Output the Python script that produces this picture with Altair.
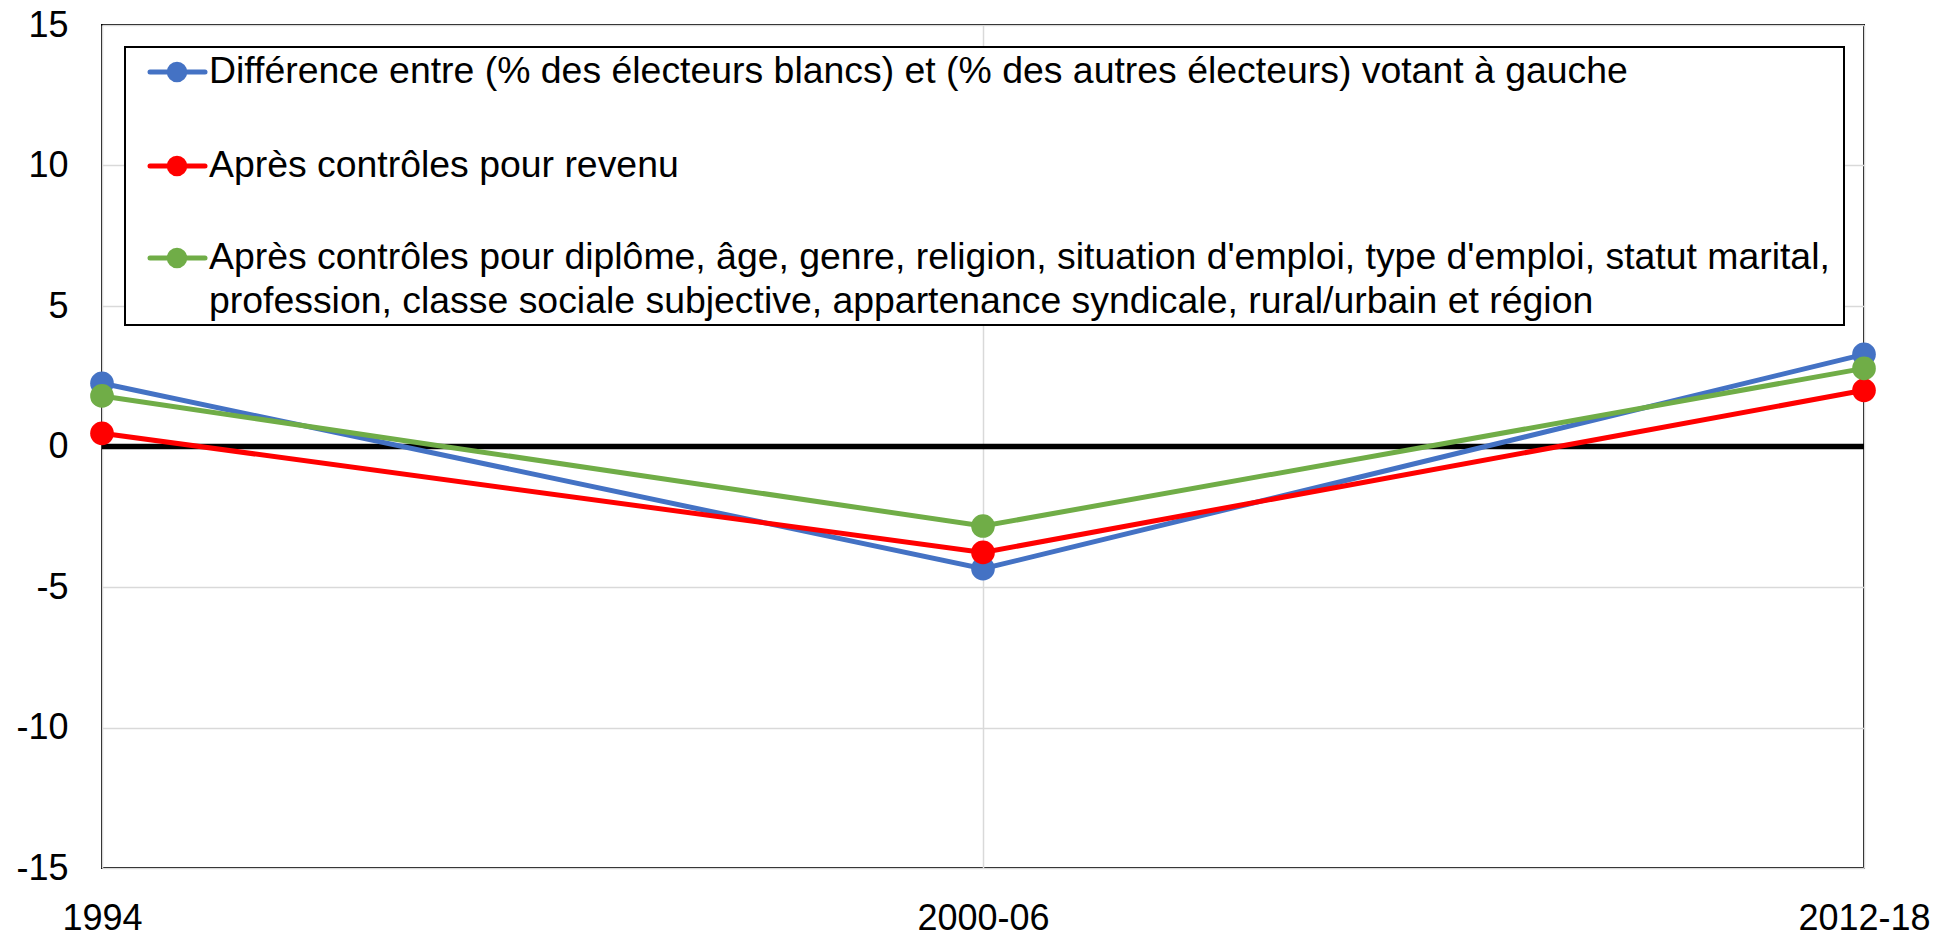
import altair as alt
import pandas as pd

# ---- data ----
periods = ["1994", "2000-06", "2012-18"]
series_names = [
    "Différence entre (% des électeurs blancs) et (% des autres électeurs) votant à gauche",
    "Après contrôles pour revenu",
    "Après contrôles pour diplôme, âge, genre, religion, situation d'emploi, type d'emploi, statut marital, profession, classe sociale subjective, appartenance syndicale, rural/urbain et région",
]
diff_vals = [2.25, -4.35, 3.28]
revenu_vals = [0.47, -3.77, 2.0]
full_vals = [1.8, -2.83, 2.78]
colors = ["#4472C4", "#FF0000", "#70AD47"]
y_ticks = [-15, -10, -5, 0, 5, 10, 15]
legend_lines = [
    ["Différence entre (% des électeurs blancs) et (% des autres électeurs) votant à gauche"],
    ["Après contrôles pour revenu"],
    ["Après contrôles pour diplôme, âge, genre, religion, situation d'emploi, type d'emploi, statut marital,",
     "profession, classe sociale subjective, appartenance syndicale, rural/urbain et région"],
]

rows = []
for name, vals in zip(series_names, [diff_vals, revenu_vals, full_vals]):
    for p, v in zip(periods, vals):
        rows.append({"period": p, "serie": name, "value": v})
df = pd.DataFrame(rows)

FONT = "Liberation Sans"
W, H = 1762, 843

x_enc = alt.X(
    "period:O", sort=periods,
    scale=alt.Scale(type="point", padding=0),
    axis=alt.Axis(title=None, labelAngle=0, grid=True, gridColor="#d9d9d9", gridWidth=1.5,
                  ticks=False, tickSize=0, domain=False, labelFontSize=36, labelPadding=33,
                  labelColor="black", labelFont=FONT),
)
y_enc = alt.Y(
    "value:Q",
    scale=alt.Scale(domain=[-15, 15], nice=False, zero=False),
    axis=alt.Axis(title=None, values=y_ticks, grid=True, gridColor="#d9d9d9", gridWidth=1.5,
                  ticks=False, tickSize=0, domain=False, labelFontSize=36, labelPadding=34,
                  labelColor="black", labelFont=FONT, labelFlush=False, labelOverlap=False,
                  labelExpr="'' + datum.value"),
)
color_enc = alt.Color("serie:N", scale=alt.Scale(domain=series_names, range=colors), legend=None)

base = alt.Chart(df)

zero_rule = alt.Chart(pd.DataFrame({"z": [0]})).mark_rule(color="black", strokeWidth=5.5).encode(
    y=alt.Y("z:Q", scale=alt.Scale(domain=[-15, 15], nice=False, zero=False))
)

lines = base.mark_line(strokeWidth=5).encode(x=x_enc, y=y_enc, color=color_enc,
                                              order=alt.Order("period:O"))
points = base.mark_circle(size=560, opacity=1).encode(x=x_enc, y=y_enc, color=color_enc)

# ---- legend drawn as a boxed overlay ----
dummy = pd.DataFrame({"k": [0]})
legend_layers = [
    alt.Chart(dummy).mark_rect(fill="white", stroke="black", strokeWidth=2).encode(
        x=alt.value(23), x2=alt.value(1742), y=alt.value(22), y2=alt.value(300)
    )
]
entry_y = [47, 141, 233]
line_gap = 44
for cy, col, texts in zip(entry_y, colors, legend_lines):
    legend_layers.append(
        alt.Chart(dummy).mark_rule(stroke=col, strokeWidth=5, strokeCap="round").encode(
            x=alt.value(48), x2=alt.value(103), y=alt.value(cy)
        )
    )
    legend_layers.append(
        alt.Chart(dummy).mark_circle(size=420, color=col, opacity=1).encode(
            x=alt.value(75), y=alt.value(cy)
        )
    )
    for i, t in enumerate(texts):
        legend_layers.append(
            alt.Chart(dummy).mark_text(align="left", baseline="middle", fontSize=37.4, font=FONT,
                                       color="black").encode(
                x=alt.value(107), y=alt.value(cy + i * line_gap), text=alt.value(t)
            )
        )

chart = alt.layer(zero_rule, lines, points, *legend_layers).properties(
    width=W, height=H,
    autosize=alt.AutoSizeParams(type="none"),
    padding={"left": 94, "top": 17, "right": 81, "bottom": 72},
    background="white",
).configure_view(stroke="black", strokeWidth=2)

chart.save("out.html", embed_options={"renderer": "svg", "actions": False})
